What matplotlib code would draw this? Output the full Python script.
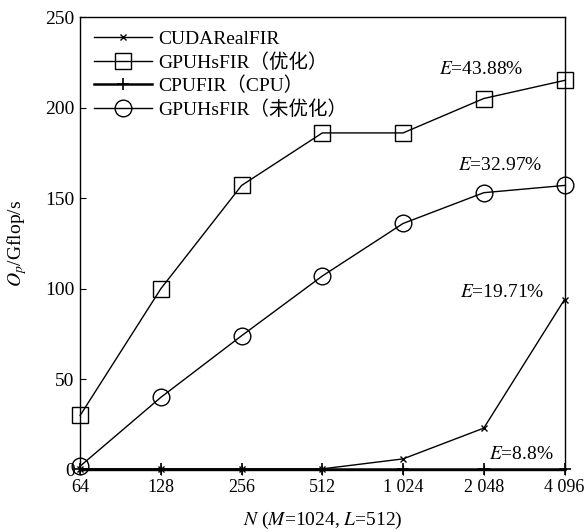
import numpy as np
import matplotlib
matplotlib.use('Agg')
import matplotlib.pyplot as plt

plt.rcParams['font.family'] = ['Liberation Serif', 'Noto Sans CJK SC']
plt.rcParams['mathtext.fontset'] = 'stix'

# data
n_labels = ['64', '128', '256', '512', '1 024', '2 048', '4 096']
cuda_real = [0.5, 0.5, 0.5, 0.5, 6, 23, 94]
gpu_opt = [30, 100, 157, 186, 186, 205, 215]
cpu_fir = [0.5, 0.5, 0.5, 0.5, 0.5, 0.5, 0.5]
gpu_noopt = [2, 40, 74, 107, 136, 153, 157]

eff_text = ['$E$=43.88%', '$E$=32.97%', '$E$=19.71%', '$E$=8.8%']

x = np.arange(len(n_labels))

fig = plt.figure(figsize=(5.85, 5.32), dpi=100)
ax = fig.add_axes([0.137, 0.117, 0.828, 0.851])

ax.plot(x, cuda_real, color='k', lw=1, marker='x', ms=4, mew=1,
        label='CUDARealFIR', clip_on=False)
ax.plot(x, gpu_opt, color='k', lw=1, marker='s', ms=12, mfc='none', mew=1,
        label='GPUHsFIR（优化）', clip_on=False)
ax.plot(x, cpu_fir, color='k', lw=1.8, marker='+', ms=8, mew=1.2,
        label='CPUFIR（CPU）', clip_on=False)
ax.plot(x, gpu_noopt, color='k', lw=1, marker='o', ms=12, mfc='none', mew=1,
        label='GPUHsFIR（未优化）', clip_on=False)

ax.set_xlim(0, 6)
ax.set_ylim(0, 250)
ax.set_xticks(x)
ax.set_xticklabels(n_labels)
ax.set_yticks([0, 50, 100, 150, 200, 250])
ax.tick_params(axis='x', direction='inout', length=7, labelsize=13, pad=3)
ax.tick_params(axis='y', direction='in', length=4, labelsize=14, pad=4)
for s in ax.spines.values():
    s.set_linewidth(1)

ax.set_ylabel('$O_p$/Gflop/s', fontsize=14, labelpad=12)
ax.set_xlabel('$N$ ($M$=1024, $L$=512)', fontsize=14, labelpad=10)

ax.text(4.44, 221, eff_text[0], fontsize=14, va='center')
ax.text(4.68, 168, eff_text[1], fontsize=14, va='center')
ax.text(4.70, 98, eff_text[2], fontsize=14, va='center')
ax.text(5.06, 8.5, eff_text[3], fontsize=14, va='center')

ax.legend(loc='upper left', frameon=False, fontsize=14, handlelength=3.0,
          handletextpad=0.3, labelspacing=0.25, borderaxespad=0.3,
          bbox_to_anchor=(0.0, 1.0))

fig.savefig('out.png', dpi=100)
